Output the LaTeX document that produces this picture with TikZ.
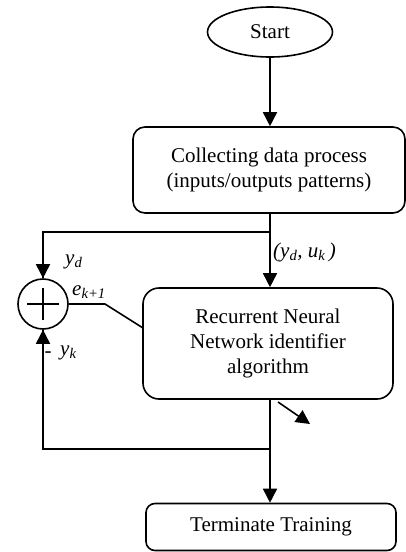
\documentclass[tikz,border=0pt]{standalone}
\usepackage{fontspec}
\setmainfont{Liberation Serif}
\usetikzlibrary{shapes.geometric,arrows.meta,calc}
\begin{document}
\begin{tikzpicture}[x=1pt,y=-1pt,
  every node/.style={font=\fontsize{21}{25}\selectfont},
  line/.style={line width=1.6pt},
  arr/.style={line width=1.6pt,-{Triangle[length=14pt,width=14pt]}},
  box/.style={draw,line width=1.6pt,rectangle,align=center,inner sep=0pt},
  lbl/.style={inner sep=0pt,anchor=west,font=\fontsize{21}{25}\selectfont\itshape}
]
\useasboundingbox (0,0) rectangle (406,552);
\node[draw,line width=1.6pt,ellipse,minimum width=125pt,minimum height=50pt,inner sep=0pt] (start) at (270,32) {Start};
\node[box,rounded corners=12pt,minimum width=272pt,minimum height=86pt] (collect) at (269,170) {Collecting data process\\(inputs/outputs patterns)};
\node[box,rounded corners=16pt,minimum width=250pt,minimum height=111pt] (rnn) at (268,343.5) {Recurrent Neural\\Network identifier\\algorithm};
\node[box,rounded corners=9pt,minimum width=250pt,minimum height=47pt] (term) at (271,527) {Terminate Training};
\node[draw,line width=1.6pt,circle,minimum size=50pt,inner sep=0pt] (sum) at (43,304) {};
\draw[line] ([xshift=-16pt]sum.center) -- ([xshift=16pt]sum.center);
\draw[line] ([yshift=-16pt]sum.center) -- ([yshift=16pt]sum.center);

\coordinate (br) at (270,232);
\coordinate (fb) at (270,449);
\coordinate (ek) at (105,304);
\coordinate (rin) at (143,328);
\coordinate (d0) at (278,402);
\coordinate (d1) at (310,424);

\draw[arr] (start) -- (start |- collect.north);
\draw[arr] (br |- collect.south) -- (br |- rnn.north);
\draw[line] (br) -| (sum.north);
\draw[arr] (sum.north |- br) -- (sum.north);
\draw[arr] (fb |- rnn.south) -- (fb |- term.north);
\draw[line] (fb) -| (sum.south);
\draw[arr] (sum.south |- fb) -- (sum.south);
\draw[line] (sum.east) -- (ek) -- (rin);
\draw[arr] (d0) -- (d1);

\node[lbl] (lyd) at (65,262) {y\textsubscript{d}};
\node[lbl] (lyu) at (273,252) {(y\textsubscript{d}, u\textsubscript{k}\,)};
\node[lbl] (lek) at (72,292) {e\textsubscript{k+1}};
\node[lbl] (lyk) at (60,353) {y\textsubscript{k}};
\node[inner sep=0pt,anchor=west] (lmin) at (44.5,355) {-};
\end{tikzpicture}
\end{document}
